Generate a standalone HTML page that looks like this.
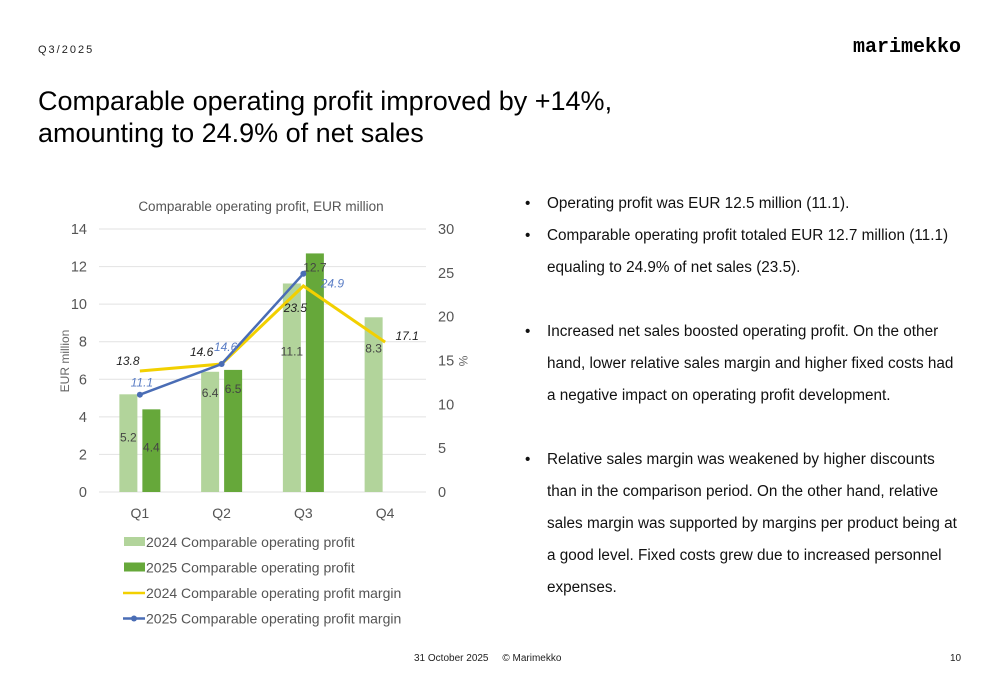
<!DOCTYPE html>
<html><head><meta charset="utf-8"><style>
body{margin:0;width:1000px;height:685px;background:#fff;font-family:"Liberation Sans",sans-serif;position:relative;overflow:hidden;color:#000}
.abs{position:absolute}
.b{position:absolute;left:525px;font-size:15.3px;color:#111}
.b span{position:absolute;left:22px;width:460px;line-height:32px;top:-7px;white-space:nowrap}
</style></head><body>
<div class="abs" style="left:38px;top:44px;font-size:11px;letter-spacing:2px;color:#222">Q3/2025</div>
<div class="abs" style="left:853px;top:36px;font-family:'Liberation Mono',monospace;font-weight:bold;font-size:20px;">marimekko</div>
<div class="abs" style="left:38px;top:85px;font-size:27px;line-height:32px;color:#000">Comparable operating profit improved by +14%,<br>amounting to 24.9% of net sales</div>
<div>
<div class="b" style="top:195px">•<span>Operating profit was EUR 12.5 million (11.1).</span></div>
<div class="b" style="top:227px">•<span>Comparable operating profit totaled EUR 12.7 million (11.1)<br>equaling to 24.9% of net sales (23.5).</span></div>
<div class="b" style="top:323px">•<span>Increased net sales boosted operating profit. On the other<br>hand, lower relative sales margin and higher fixed costs had<br>a negative impact on operating profit development.</span></div>
<div class="b" style="top:451px">•<span>Relative sales margin was weakened by higher discounts<br>than in the comparison period. On the other hand, relative<br>sales margin was supported by margins per product being at<br>a good level. Fixed costs grew due to increased personnel<br>expenses.</span></div>
</div>
<div class="abs" style="left:414px;top:653px;font-size:10px;color:#222">31 October 2025 &nbsp;&nbsp;&nbsp; © Marimekko</div>
<div class="abs" style="left:950px;top:653px;font-size:10px;color:#222">10</div>
<svg id="chart" class="abs" style="left:0;top:0" width="1000" height="685"></svg>
<script>
const categories=["Q1","Q2","Q3","Q4"];
const profit2024=[5.2,6.4,11.1,9.3];
const profit2024Labels=["5.2","6.4","11.1","8.3"];
const profit2025=[4.4,6.5,12.7];
const margin2024=[13.8,14.6,23.5,17.1];
const margin2025=[11.1,14.6,24.9];
const leftTicks=[0,2,4,6,8,10,12,14];
const rightTicks=[0,5,10,15,20,25,30];
const NS="http://www.w3.org/2000/svg";
const svg=document.getElementById("chart");
const X0=99,X1=426,Y0=492,Y1=229;
const yL=v=>Y0-(v/14)*(Y0-Y1);
const yR=v=>Y0-(v/30)*(Y0-Y1);
const cw=(X1-X0)/categories.length;
const xc=i=>X0+cw*(i+0.5);
function mk(tag,attrs,txt){const e=document.createElementNS(NS,tag);for(const k in attrs)e.setAttribute(k,attrs[k]);if(txt!==undefined)e.textContent=txt;svg.appendChild(e);return e;}
let t=mk("text",{x:261,y:211,"text-anchor":"middle","font-size":"13.5",fill:"#555","font-family":"Liberation Sans"},"Comparable operating profit, EUR million");


leftTicks.forEach(v=>{
 const g=mk("line",{x1:X0,x2:X1,y1:yL(v),y2:yL(v),stroke:"#e2e2e2","stroke-width":1});
 
 
 const l=mk("text",{x:87,y:yL(v)+5,"text-anchor":"end","font-size":"14.5",fill:"#555"},String(v));
 
 
});
rightTicks.forEach(v=>{
 const l=mk("text",{x:438,y:yR(v)+5,"font-size":"14.5",fill:"#555"},String(v));
 
 
});
let ya=mk("text",{x:0,y:0,transform:"translate(69,361) rotate(-90)","text-anchor":"middle","font-size":"12",fill:"#666"},"EUR million");


let yb=mk("text",{x:0,y:0,transform:"translate(459,361) rotate(90)","text-anchor":"middle","font-size":"12",fill:"#666"},"%");


categories.forEach((c,i)=>{
 const l=mk("text",{x:xc(i),y:518,"text-anchor":"middle","font-size":"14",fill:"#555"},c);
 
 
});
const bw=18;
const lab24Off=[47,25,72,35];
profit2024.forEach((v,i)=>{
 const x=xc(i)-bw-2.5;
 const r=mk("rect",{x:x,y:yL(v),width:bw,height:Y0-yL(v),fill:"#b2d49b"});
 
 
 const l=mk("text",{x:x+bw/2,y:yL(v)+lab24Off[i],"text-anchor":"middle","font-size":"12",fill:"#444"},profit2024Labels[i]);
 
 
});
const lab25Off=[42,23,18];
profit2025.forEach((v,i)=>{
 const x=xc(i)+2.5;
 const r=mk("rect",{x:x,y:yL(v),width:bw,height:Y0-yL(v),fill:"#66a83a"});
 
 
 const l=mk("text",{x:x+bw/2,y:yL(v)+lab25Off[i],"text-anchor":"middle","font-size":"12",fill:"#444"},String(v));
 
 
});
let p=mk("polyline",{points:margin2024.map((v,i)=>xc(i)+","+yR(v)).join(" "),fill:"none",stroke:"#f2d000","stroke-width":3});


let q=mk("polyline",{points:margin2025.map((v,i)=>xc(i)+","+yR(v)).join(" "),fill:"none",stroke:"#4a6db5","stroke-width":2.5});


const off24=[[-12,-6],[-20,-8],[-8,26],[22,-2]];
margin2024.forEach((v,i)=>{
 const l=mk("text",{x:xc(i)+off24[i][0],y:yR(v)+off24[i][1],"text-anchor":"middle","font-size":"12","font-style":"italic",fill:"#222"},String(v));
 
 
});
const off25=[[2,-8],[4,-13],[29,14]];
margin2025.forEach((v,i)=>{
 const d=mk("circle",{cx:xc(i),cy:yR(v),r:3,fill:"#4a6db5"});
 
 
 const l=mk("text",{x:xc(i)+off25[i][0],y:yR(v)+off25[i][1],"text-anchor":"middle","font-size":"12","font-style":"italic",fill:"#5a7dc5"},String(v));
 
 
});
const legend=[["2024 Comparable operating profit","#b2d49b","rect"],["2025 Comparable operating profit","#66a83a","rect"],["2024 Comparable operating profit margin","#f2d000","line"],["2025 Comparable operating profit margin","#4a6db5","marker"]];
legend.forEach((e,i)=>{
 const y=542+i*25.5;
 let s;
 if(e[2]==="rect")s=mk("rect",{x:124,y:y-5,width:21,height:9,fill:e[1]});
 else{s=mk("line",{x1:123,x2:145,y1:y,y2:y,stroke:e[1],"stroke-width":2.5});if(e[2]==="marker"){const c=mk("circle",{cx:134,cy:y,r:3,fill:e[1]});}}
 
 
 const l=mk("text",{x:146,y:y+5,"font-size":"14",fill:"#555"},e[0]);
 
 
});
</script>
</body></html>
